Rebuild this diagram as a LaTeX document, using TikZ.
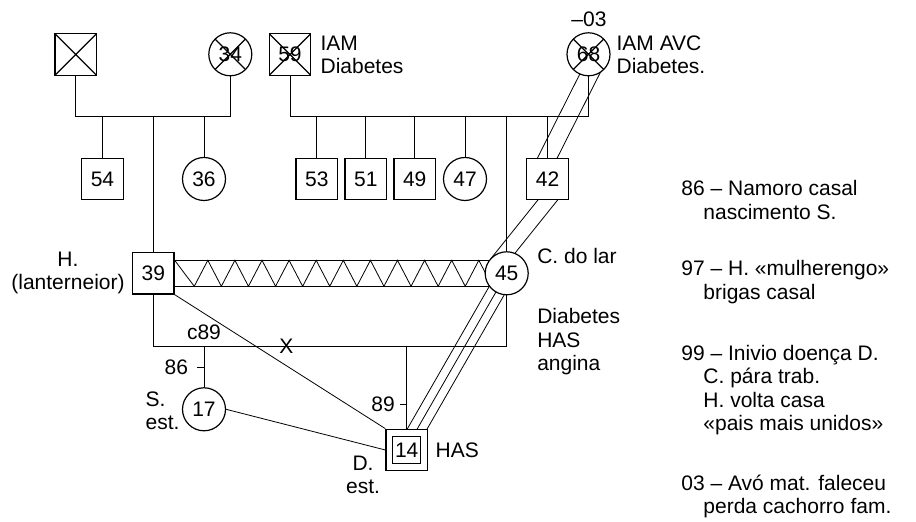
\documentclass[tikz,border=0pt]{standalone}
\usepackage{fontspec}
\setmainfont{Liberation Sans}
\usetikzlibrary{calc,backgrounds}
\tikzset{
  lbl/.style={inner sep=0pt, font=\fontsize{10.5pt}{11.7pt}\selectfont},
  male/.style={lbl, draw, fill=white, minimum size=20.75pt},
  female/.style={lbl, draw, fill=white, circle, minimum size=21.5pt},
  dead/.style={path picture={\draw (path picture bounding box.north west) -- (path picture bounding box.south east)
      (path picture bounding box.south west) -- (path picture bounding box.north east);}},
  proband/.style={male, path picture={\draw ($(path picture bounding box.center)+(-7pt,-6.8pt)$) rectangle ++(14pt,13.6pt);}}
}
\begin{document}
\begin{tikzpicture}[x=0.5pt, y=-0.5pt, line width=0.6pt]
    \useasboundingbox (0,0) rectangle (916,522);
    % Grandparents
    \node[male, dead] (gf1) at (75.7,54.5) {};
    \node[female, dead] (gm1) at (230.3,54.3) {34};
    \node[male, dead] (gf2) at (290,54.5) {59};
    \node[female, dead] (gm2) at (588.5,54.3) {68};
    \node[lbl, anchor=west, align=left] (dgf2) at (320,55) {IAM\\Diabetes};
    \node[lbl, anchor=west, align=left] (dgm2) at (616,55) {IAM AVC\\Diabetes.};
    \node[lbl] (ob03) at (589,19) {–03};
    % Uncles and aunts
    \node[male] (n54) at (102.5,179) {54};
    \node[female] (n36) at (204,179) {36};
    \node[male] (n53) at (316.8,179) {53};
    \node[male] (n51) at (365.8,179) {51};
    \node[male] (n49) at (414.7,179) {49};
    \node[female] (n47) at (465,179) {47};
    \node[male] (n42) at (547.5,179) {42};
    % Parents
    \node[male] (n39) at (153.3,273.3) {39};
    \node[female] (n45) at (506.7,273.3) {45};
    \node[lbl, align=center] (dh) at (68,273) {H.\\(lanterneior)};
    \node[lbl, anchor=west] (dc) at (536.7,256) {C. do lar};
    \node[lbl, anchor=west, align=left] (dcd) at (536.7,341.7) {Diabetes\\HAS\\angina};
    % Children
    \node[female] (n17) at (204,409.3) {17};
    \node[proband] (n14) at (406.7,450) {14};
    \node[lbl, anchor=west, align=left] (ds) at (145,411) {S.\\est.};
    \node[lbl, align=center] (dd) at (363,475) {D.\\est.};
    \node[lbl, anchor=west] (dhas) at (435,450.7) {HAS};
    % Marriage lines
    \coordinate (m1) at (0,116.7);
    \coordinate (m2) at (0,116);
    \coordinate (m3) at (0,346.7);
    \node[lbl] (c89) at (204,332.7) {c89};
    \node[lbl] (sep) at (286.5,346.5) {X};
    \begin{pgfonlayer}{background}
        \draw (gf1.south) |- (gm1.south |- m1) -- (gm1.south);
        \foreach \k in {n54,n39,n36} \draw (\k.north) -- (\k.north |- m1);
        \draw (gf2.south) |- (gm2.south |- m2) -- (gm2.south);
        \foreach \k in {n53,n51,n49,n47,n45,n42} \draw (\k.north) -- (\k.north |- m2);
        \draw (n39.south) |- (n45.south |- m3) -- (n45.south);
        \foreach \k in {n17,n14} \draw (\k.north) -- (\k.north |- m3);
        % Conflict
        \draw ($(n39.east)+(0,-13)$) -- ($(n45.center)+(0,-13)$)
              ($(n39.east)+(0,13)$) -- ($(n45.center)+(0,13)$);
        \draw ($(n39.east)+(0,-13)$) -- ++(19.6,26)
              \foreach \i in {1,...,11} {-- ++(13.55,-26) -- ++(13.55,26)};
        \draw (n39.south east) -- (n14.north west);
        \draw (n17.east) -- (n14.west);
        % Close: 68 - 42
        \coordinate (r1a) at ($(gm2.south)!-5pt!(n42.north)$);
        \coordinate (r1b) at ($(n42.north)!-5pt!(gm2.south)$);
        \draw ($(r1a)!4.4pt!90:(r1b)$) -- ($(r1b)!4.4pt!-90:(r1a)$)
              ($(r1a)!4.4pt!-90:(r1b)$) -- ($(r1b)!4.4pt!90:(r1a)$);
        % Close: 42 - 45
        \coordinate (r2a) at ($(n42.south)!-5pt!(n45.north)$);
        \coordinate (r2b) at ($(n45.north)!-8pt!(n42.south)$);
        \draw ($(r2a)!3.85pt!90:(r2b)$) -- ($(r2b)!3.85pt!-90:(r2a)$)
              ($(r2a)!3.85pt!-90:(r2b)$) -- ($(r2b)!3.85pt!90:(r2a)$);
        % Fused: 45 - 14
        \coordinate (r3a) at (n45.center);
        \coordinate (r3b) at ($($(n14.north)!0.5!(n14.north east)$)!-5pt!(n45.center)$);
        \draw (r3a) -- (r3b)
              ($(r3a)!4.3pt!90:(r3b)$) -- ($(r3b)!4.3pt!-90:(r3a)$)
              ($(r3a)!4.3pt!-90:(r3b)$) -- ($(r3b)!4.3pt!90:(r3a)$);
    \end{pgfonlayer}
    % Years
    \coordinate (t86) at ($(n17.north |- m3)!0.5!(n17.north)$);
    \draw (t86) -- ++(-7,0);
    \node[lbl, anchor=east] (l86) at ($(t86)+(-15.5,0)$) {86};
    \coordinate (t89) at ($(n14.north |- m3)!0.7!(n14.north)$);
    \draw (t89) -- ++(-7,0);
    \node[lbl, anchor=east] (l89) at ($(t89)+(-11.5,0)$) {89};
    % Events
    \node[lbl, anchor=west, align=left] (ev86) at (681,200) {86 – Namoro casal\\\hspace*{1.05em}nascimento S.};
    \node[lbl, anchor=west, align=left] (ev97) at (681,282) {97 – H. «mulherengo»\\\hspace*{1.05em}brigas casal};
    \node[lbl, anchor=west, align=left] (ev99) at (681,390) {99 – Inivio doença D.\\\hspace*{1.05em}C. pára trab.\\\hspace*{1.05em}H. volta casa\\\hspace*{1.05em}«pais mais unidos»};
    \node[lbl, anchor=west, align=left] (ev03) at (681,496.7) {03 – Avó mat. faleceu\\\hspace*{1.05em}perda cachorro fam.};
\end{tikzpicture}
\end{document}
